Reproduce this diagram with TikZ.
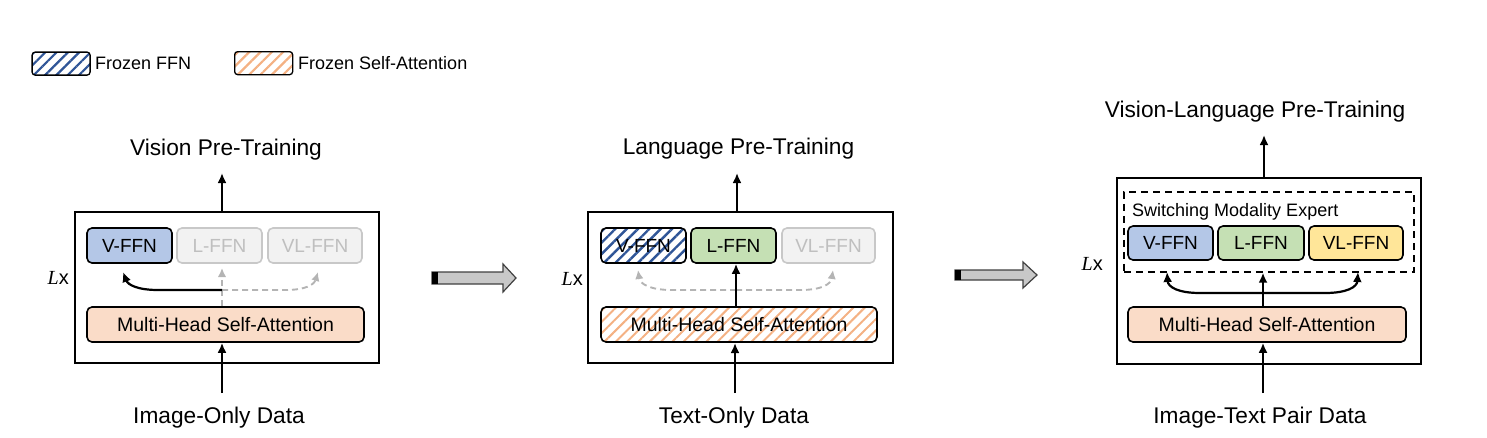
\documentclass[tikz,border=0pt]{standalone}
\usepackage{fontspec}
\setmainfont{Liberation Sans}
\newfontfamily\serifit{Liberation Serif}
\usetikzlibrary{arrows.meta,patterns.meta}
\definecolor{vblue}{HTML}{B4C7E7}
\definecolor{lgreen}{HTML}{C5E0B4}
\definecolor{vlyellow}{HTML}{FFE699}
\definecolor{mpeach}{HTML}{FADCC8}
\definecolor{offfill}{HTML}{F2F2F2}
\definecolor{offline}{HTML}{C8C8C8}
\definecolor{offtext}{HTML}{BFBFBF}
\definecolor{hatchblue}{HTML}{2F5597}
\definecolor{hatchorange}{HTML}{F4B183}
\definecolor{bigarrow}{HTML}{C8C8C8}
\definecolor{dashgray}{HTML}{B4B4B4}
\begin{document}
\begin{tikzpicture}[x=1pt,y=-1pt,
  titletext/.style={font=\fontsize{22.7}{27}\selectfont, anchor=base, inner sep=0},
  outerbox/.style={draw, line width=2pt, inner sep=0, anchor=north west},
  ffn/.style={draw, line width=1.6pt, rounded corners=5pt, inner sep=0,
     minimum height=35pt, font=\fontsize{19}{22}\selectfont},
  vffn/.style={ffn, fill=vblue},
  lffn/.style={ffn, fill=lgreen},
  vlffn/.style={ffn, fill=vlyellow},
  offffn/.style={ffn, draw=offline, fill=offfill, text=offtext},
  frozenffn/.style={ffn, pattern={Lines[angle=45,distance=8pt,line width=2.4pt]}, pattern color=hatchblue},
  mhsa/.style={ffn, fill=mpeach, font=\fontsize{19.5}{22}\selectfont},
  frozenmhsa/.style={ffn, pattern={Lines[angle=45,distance=8pt,line width=2pt]}, pattern color=hatchorange, font=\fontsize{19.5}{22}\selectfont},
  layertext/.style={font=\fontsize{20}{24}\selectfont, anchor=base east, inner sep=0},
  arr/.style={line width=2.2pt, -{Latex[length=10pt,width=9pt]}},
  grayarr/.style={line width=1.9pt, dashgray, dash pattern=on 6pt off 4pt, -{Latex[length=9pt,width=8.5pt]}},
  legendbox/.style={draw, line width=1.3pt, rounded corners=3pt, inner sep=0, minimum width=58pt, minimum height=23pt, anchor=north west},
  legendtext/.style={font=\fontsize{18}{21}\selectfont, anchor=base west, inner sep=0},
  bigarr/.style={draw=black!75, line width=1.2pt, fill=bigarrow}
]
\useasboundingbox (0,0) rectangle (1487,437);

% legend
\node[legendbox, pattern={Lines[angle=45,distance=8pt,line width=2.2pt]}, pattern color=hatchblue] (lgb) at (31,51) {};
\node[legendtext] (lgbt) at (95,69) {Frozen FFN};
\node[legendbox, pattern={Lines[angle=45,distance=8pt,line width=2.2pt]}, pattern color=hatchorange] (lgo) at (234,51) {};
\node[legendtext] (lgot) at (298,69) {Frozen Self-Attention};

% ---------------- Panel 1 ----------------
\node[outerbox, minimum width=304pt, minimum height=151pt] (box1) at (74,211) {};
\node[vffn, minimum width=85pt] (v1) at (129.5,245.5) {V-FFN};
\node[offffn, minimum width=85pt] (l1) at (219.5,245.5) {L-FFN};
\node[offffn, minimum width=94pt] (vl1) at (315,245.5) {VL-FFN};
\node[mhsa, minimum width=277pt] (m1) at (225.5,324.5) {Multi-Head Self-Attention};
\node[titletext] (t1) at (226,155) {Vision Pre-Training};
\node[titletext] (b1) at (219,423) {Image-Only Data};
\node[layertext] (lx1) at (69,284) {{\serifit\itshape L}x};
\coordinate (o1) at (222,173);
\coordinate (i1) at (222,393);
\coordinate (j1) at (222,290);
\coordinate (tv1) at (123,272);
\coordinate (tl1) at (222,268);
\coordinate (tvl1) at (318,272);
\draw[arr] (box1.north -| o1) -- (o1);
\draw[arr] (i1) -- (m1.south -| i1);
\draw[grayarr] (m1.north -| j1) -- (tl1);
\draw[grayarr] (j1) -- (285,290) .. controls (305,290) and (314,285) .. (tvl1);
\draw[arr] (j1) -- (158,290) .. controls (138,290) and (128,285) .. (tv1);

% big arrow 1
\draw[bigarr] (432,272) -- (503,272) -- (503,264) -- (516,278) -- (503,292) -- (503,284) -- (432,284) -- cycle;
\fill[black] (432,272) rectangle (437.5,284);

% ---------------- Panel 2 ----------------
\node[outerbox, minimum width=305pt, minimum height=151pt] (box2) at (587,211) {};
\node[frozenffn, minimum width=85pt] (v2) at (643.5,245.5) {V-FFN};
\node[lffn, minimum width=85pt] (l2) at (733.5,245.5) {L-FFN};
\node[offffn, minimum width=93pt] (vl2) at (828.5,245.5) {VL-FFN};
\node[frozenmhsa, minimum width=276pt] (m2) at (739,324.5) {Multi-Head Self-Attention};
\node[titletext] (t2) at (738.5,154) {Language Pre-Training};
\node[titletext] (b2) at (734,423) {Text-Only Data};
\node[layertext] (lx2) at (583,285) {{\serifit\itshape L}x};
\coordinate (o2) at (737,173);
\coordinate (i2) at (735,393);
\coordinate (j2) at (736,290);
\coordinate (tv2) at (638,270);
\coordinate (tvl2) at (833,270);
\draw[arr] (box2.north -| o2) -- (o2);
\draw[arr] (i2) -- (m2.south -| i2);
\draw[grayarr] (j2) -- (672,290) .. controls (650,290) and (640,284) .. (tv2);
\draw[grayarr] (j2) -- (800,290) .. controls (822,290) and (831,284) .. (tvl2);
\draw[arr] (m2.north -| j2) -- (l2.south -| j2);

% big arrow 2
\draw[bigarr] (955,270) -- (1023,270) -- (1023,262) -- (1037,275) -- (1023,288) -- (1023,280) -- (955,280) -- cycle;
\fill[black] (955,270) rectangle (960.5,280);

% ---------------- Panel 3 ----------------
\node[outerbox, minimum width=304pt, minimum height=186pt] (box3) at (1116,177) {};
\node[draw, line width=1.7pt, dash pattern=on 7pt off 5pt, inner sep=0, anchor=north west,
      minimum width=290pt, minimum height=80pt] (sme) at (1123,191) {};
\node[font=\fontsize{18}{21}\selectfont, anchor=base west, inner sep=0] (smet) at (1132,216) {Switching Modality Expert};
\node[vffn, minimum width=85pt, minimum height=34pt] (v3) at (1170.5,243) {V-FFN};
\node[lffn, minimum width=86pt, minimum height=34pt] (l3) at (1261,243) {L-FFN};
\node[vlffn, minimum width=94pt, minimum height=34pt] (vl3) at (1356,243) {VL-FFN};
\node[mhsa, minimum width=278pt] (m3) at (1267,324.5) {Multi-Head Self-Attention};
\node[titletext] (t3) at (1255,117) {Vision-Language Pre-Training};
\node[titletext] (b3) at (1260,423) {Image-Text Pair Data};
\node[layertext] (lx3) at (1103,270) {{\serifit\itshape L}x};
\coordinate (o3) at (1264,135);
\coordinate (i3) at (1263,393);
\coordinate (j3) at (1263,293);
\coordinate (tv3) at (1167,272);
\coordinate (tvl3) at (1358,272);
\draw[arr] (box3.north -| o3) -- (o3);
\draw[arr] (i3) -- (m3.south -| i3);
\draw[arr] (m3.north -| j3) -- (sme.south -| j3);
\draw[arr] (j3) -- (1200,293) .. controls (1178,293) and (1168,287) .. (tv3);
\draw[arr] (j3) -- (1325,293) .. controls (1347,293) and (1357,287) .. (tvl3);
\end{tikzpicture}
\end{document}
